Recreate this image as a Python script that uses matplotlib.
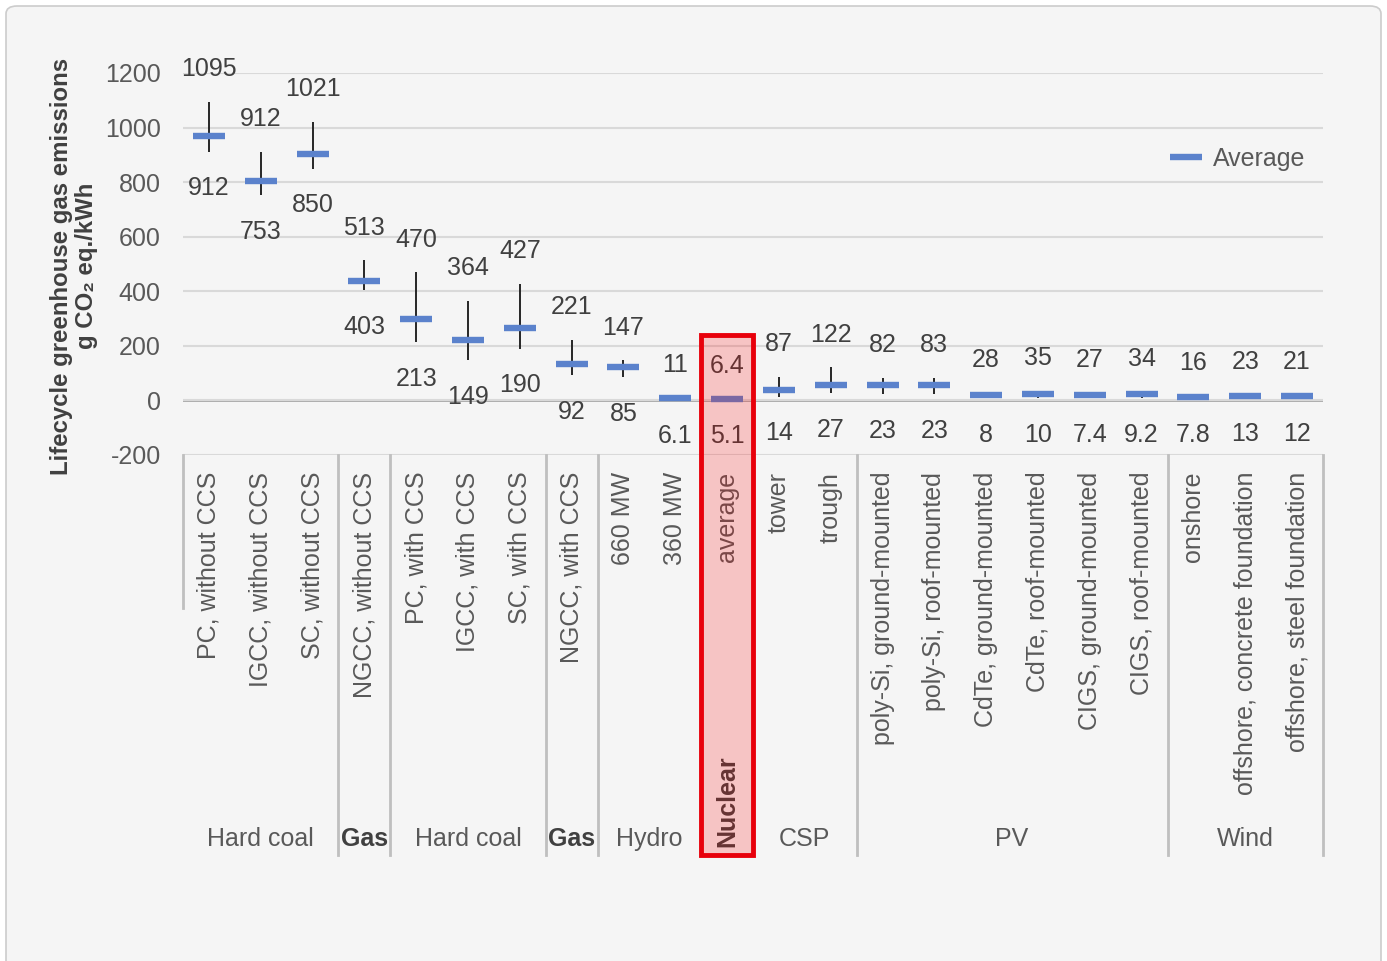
import matplotlib
matplotlib.use("Agg")
import matplotlib.pyplot as plt
from matplotlib.patches import Rectangle, FancyBboxPatch

plt.rcParams['font.family'] = ['Liberation Sans', 'DejaVu Sans']
plt.rcParams['axes.unicode_minus'] = False

# data
categories = ["PC, without CCS", "IGCC, without CCS", "SC, without CCS",
              "NGCC, without CCS", "PC, with CCS", "IGCC, with CCS", "SC, with CCS",
              "NGCC, with CCS", "660 MW", "360 MW", "average", "tower", "trough",
              "poly-Si, ground-mounted", "poly-Si, roof-mounted",
              "CdTe, ground-mounted", "CdTe, roof-mounted",
              "CIGS, ground-mounted", "CIGS, roof-mounted", "onshore",
              "offshore, concrete foundation", "offshore, steel foundation"]
max_vals = [1095, 912, 1021, 513, 470, 364, 427, 221, 147, 11, 6.4, 87, 122,
            82, 83, 28, 35, 27, 34, 16, 23, 21]
min_vals = [912, 753, 850, 403, 213, 149, 190, 92, 85, 6.1, 5.1, 14, 27,
            23, 23, 8, 10, 7.4, 9.2, 7.8, 13, 12]
avg_vals = [970, 804, 903, 439, 300, 223, 267, 135, 124, 9, 6, 40, 58,
            58, 58, 20, 22, 20, 22, 12, 18, 17]
max_text = ["1095", "912", "1021", "513", "470", "364", "427", "221", "147", "11",
            "6.4", "87", "122", "82", "83", "28", "35", "27", "34", "16", "23", "21"]
min_text = ["912", "753", "850", "403", "213", "149", "190", "92", "85", "6.1",
            "5.1", "14", "27", "23", "23", "8", "10", "7.4", "9.2", "7.8", "13", "12"]

groups = ["Hard coal", "Gas", "Hard coal", "Gas", "Hydro", "Nuclear", "CSP", "PV", "Wind"]
group_sizes = [3, 1, 3, 1, 2, 1, 2, 6, 3]
group_bold = [False, True, False, True, False, True, False, False, False]

blue = '#5b82cc'
dark = '#404040'
mid = '#595959'
bg = '#f5f5f5'

fig = plt.figure(figsize=(13.87, 9.61), dpi=100, facecolor='white')
card = FancyBboxPatch((6 / 1387, -0.05), 1375 / 1387, 1 - 6 / 961 + 0.05,
                      boxstyle="round,pad=0,rounding_size=0.008",
                      transform=fig.transFigure, facecolor=bg,
                      edgecolor='#cccccc', linewidth=1.2, zorder=-10)
fig.patches.append(card)

ax = fig.add_axes([183 / 1387, 1 - 455 / 961, 1140 / 1387, 382 / 961])
ax.set_facecolor(bg)
ax.patch.set_alpha(0)

x = list(range(len(categories)))
ax.vlines(x, min_vals, max_vals, color='#262626', lw=1.4, zorder=3)
ax.plot(x, avg_vals, linestyle='none', marker='_', markersize=23,
        markeredgewidth=4.6, color=blue, zorder=4, label='Average')

for i in x:
    ax.annotate(max_text[i], (i, max_vals[i]), xytext=(0, 23.5),
                textcoords='offset points', ha='center', va='center',
                fontsize=18, color=dark)
    ax.annotate(min_text[i], (i, min_vals[i]), xytext=(0, -26.5),
                textcoords='offset points', ha='center', va='center',
                fontsize=18, color=dark)

ax.set_xlim(-0.5, len(categories) - 0.5)
ax.set_ylim(-200, 1200)
ax.set_yticks(range(-200, 1201, 200))
ax.grid(axis='y', color='#d9d9d9', lw=1.5, zorder=0)
ax.axhline(0, color='#a6a6a6', lw=2, zorder=1)
for s in ax.spines.values():
    s.set_visible(False)
ax.tick_params(axis='y', length=0, pad=16, labelsize=18, labelcolor=mid)
ax.set_xticks(x)
ax.set_xticklabels(categories, rotation=90, va='top', ha='center')
ax.tick_params(axis='x', length=0, pad=12, labelsize=18, labelcolor=mid)

# group separators and group labels under the axis
tr = ax.get_xaxis_transform()
ax.plot([-0.5, -0.5], [0, -0.4], transform=tr, color='#bfbfbf', lw=2, clip_on=False)
start = 0
for name, n, bold in zip(groups, group_sizes, group_bold):
    end = start + n
    ax.plot([end - 0.5, end - 0.5], [0, -1.047], transform=tr,
            color='#bfbfbf', lw=2, clip_on=False)
    cx = (start + end - 1) / 2
    if name == "Nuclear":
        ax.text(cx, -1.027, name, transform=tr, rotation=90, ha='center',
                va='bottom', fontsize=18, fontweight='bold', color=dark)
    else:
        ax.text(cx, -1.005, name, transform=tr, ha='center', va='center',
                fontsize=18, color=dark if bold else mid,
                fontweight='bold' if bold else 'normal')
    start = end

# highlight box around nuclear
nuc = categories.index("average")
ax.add_patch(Rectangle((nuc - 0.5, -1.047), 1.0, 1.361, transform=tr,
                       facecolor=(1, 0, 0, 0.2), edgecolor='#e8000b',
                       lw=3.5, clip_on=False, zorder=10))

ax.legend(loc='center right', bbox_to_anchor=(1.0, 0.775), frameon=False,
          fontsize=18, labelcolor=mid, handlelength=1.4, handletextpad=0.4,
          borderaxespad=0.3)

fig.text(74 / 1387, 1 - 266 / 961,
         "Lifecycle greenhouse gas emissions\ng CO\u2082 eq./kWh",
         rotation=90, ha='center', va='center', multialignment='center',
         fontsize=17.3, fontweight='bold', color=dark, linespacing=1.12)

fig.savefig('out.png', dpi=100, facecolor=fig.get_facecolor())
